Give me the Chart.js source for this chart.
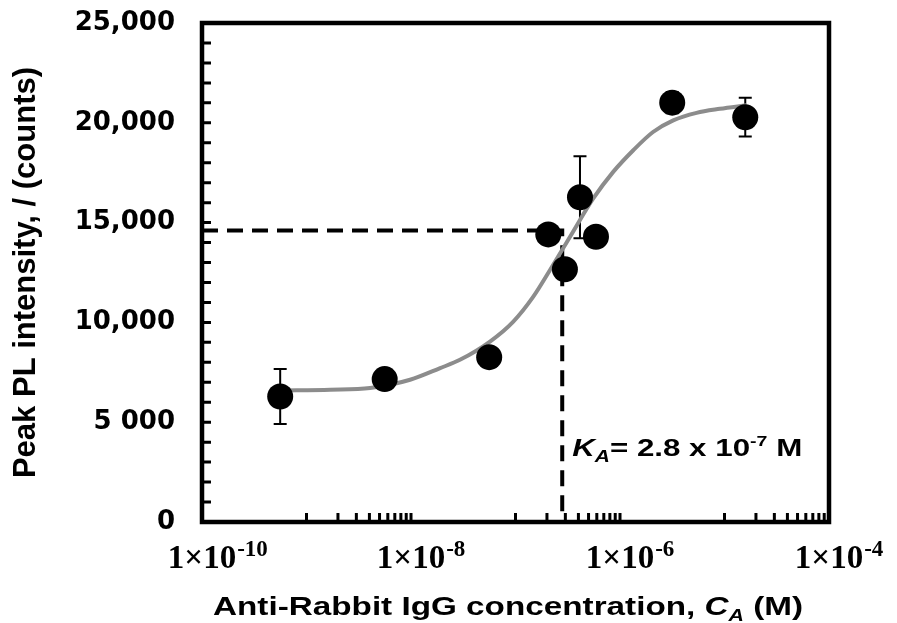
<!DOCTYPE html>
<html>
<head>
<meta charset="utf-8">
<script src="https://cdn.jsdelivr.net/npm/chart.js@4.4.1/dist/chart.umd.min.js"></script>
<style>
  html, body { margin: 0; padding: 0; background: #fff; }
  #wrap { width: 897px; height: 623px; }
</style>
</head>
<body>
<div id="wrap"><canvas id="chart" width="897" height="623"></canvas></div>
<script>
// Measured points (concentration in M, peak PL in counts)
const concentrations = [5.6e-10, 5.6e-9, 5.6e-8, 2.06e-7, 2.97e-7, 4.14e-7, 5.89e-7, 3.16e-6, 1.58e-5];
const intensities = [6290, 7160, 8260, 14410, 12660, 16270, 14290, 21010, 20280];
const errors = [1375, 0, 0, 0, 0, 2050, 0, 530, 970];

// Fitted curve
const fitConc = [5.61e-10, 1.69e-9, 4.06e-9, 9.8e-9, 1.9e-8, 2.94e-8, 5.7e-8, 9.53e-8, 1.48e-7, 2.14e-7,
  3.44e-7, 5.55e-7, 8.61e-7, 1.34e-6, 2.07e-6, 3.23e-6, 5.4e-6, 9.02e-6, 1.62e-5];
const fitIntensity = [6590, 6625, 6710, 7125, 7710, 8125, 9040, 10040, 11290, 12625,
  14420, 16210, 17540, 18625, 19540, 20125, 20500, 20700, 20875];

// K_A marker
const kA = 2.8e-7;
const kALevel = 14600;

// Axis labels
const yTickLabels = ["0", "5 000", "10,000", "15,000", "20,000", "25,000"];
const xTickValues = [1e-10, 1e-8, 1e-6, 1e-4];
const xTickExponents = ["-10", "-8", "-6", "-4"];
const xMinorDecades = [1e-9, 1e-7, 1e-5];

const sans = "'Liberation Sans', Arial, sans-serif";
const serif = "'Liberation Serif', 'Times New Roman', serif";

// draw a run of text pieces with different fonts, optionally squeezed/stretched to a width
function drawParts(ctx, parts, x, y, targetWidth) {
  let natural = 0;
  parts.forEach((p) => {
    ctx.font = p.font;
    natural += ctx.measureText(p.text).width;
  });
  const sx = targetWidth ? targetWidth / natural : 1;
  ctx.save();
  ctx.translate(x, y);
  ctx.scale(sx, 1);
  ctx.textAlign = "left";
  ctx.textBaseline = "alphabetic";
  let cx = 0;
  parts.forEach((p) => {
    ctx.font = p.font;
    ctx.fillText(p.text, cx, p.dy || 0);
    cx += ctx.measureText(p.text).width;
  });
  ctx.restore();
}

const decorations = {
  id: "decorations",
  beforeDatasetsDraw(chart) {
    // error bars
    const { ctx } = chart;
    const xs = chart.scales.x;
    const ys = chart.scales.y;
    ctx.save();
    ctx.strokeStyle = "#000";
    ctx.lineWidth = 2;
    concentrations.forEach((c, i) => {
      if (!errors[i]) return;
      const px = xs.getPixelForValue(c);
      const top = ys.getPixelForValue(intensities[i] + errors[i]);
      const bot = ys.getPixelForValue(intensities[i] - errors[i]);
      ctx.beginPath();
      ctx.moveTo(px, top);
      ctx.lineTo(px, bot);
      ctx.moveTo(px - 6.5, top);
      ctx.lineTo(px + 6.5, top);
      ctx.moveTo(px - 6.5, bot);
      ctx.lineTo(px + 6.5, bot);
      ctx.stroke();
    });
    ctx.restore();
  },
  afterDraw(chart) {
    const { ctx, chartArea } = chart;
    const { left, right, top, bottom } = chartArea;
    const xs = chart.scales.x;
    const ys = chart.scales.y;
    ctx.save();
    ctx.fillStyle = "#000";
    ctx.strokeStyle = "#000";

    // inward tick marks
    ctx.lineWidth = 3;
    ctx.beginPath();
    ys.ticks.forEach((t) => {
      const py = ys.getPixelForValue(t.value);
      ctx.moveTo(left, py);
      ctx.lineTo(left + 9, py);
    });
    xMinorDecades.forEach((d) => {
      for (let k = 1; k <= 10; k++) {
        const px = xs.getPixelForValue(d * k);
        ctx.moveTo(px, bottom);
        ctx.lineTo(px, bottom - 9);
      }
    });
    ctx.stroke();

    // plot frame
    ctx.lineWidth = 4.5;
    ctx.strokeRect(left, top, right - left, bottom - top);

    // x tick labels 1x10^n
    xTickValues.forEach((v, i) => {
      const px = xs.getPixelForValue(v);
      ctx.font = "bold 33px " + serif;
      const w = ctx.measureText("1\u00d710").width;
      ctx.textAlign = "left";
      ctx.textBaseline = "alphabetic";
      ctx.fillText("1\u00d710", px - w / 2, bottom + 46);
      ctx.font = "bold 23px " + serif;
      ctx.fillText(xTickExponents[i], px + w / 2 + 1, bottom + 34);
    });

    // x axis title with subscript
    drawParts(ctx, [
      { text: "Anti-Rabbit IgG concentration, ", font: "bold 25px " + sans },
      { text: "C", font: "italic bold 25px " + sans },
      { text: "A", font: "italic bold 16px " + sans, dy: 6 },
      { text: " (M)", font: "bold 25px " + sans },
    ], left + 11, bottom + 93, 590);

    // K_A annotation
    drawParts(ctx, [
      { text: "K", font: "italic bold 24px " + sans },
      { text: "A", font: "italic bold 16px " + sans, dy: 6 },
      { text: "= 2.8 x 10", font: "bold 24px " + sans },
      { text: "-7", font: "bold 15px " + sans, dy: -10 },
      { text: " M", font: "bold 24px " + sans },
    ], xs.getPixelForValue(kA) + 10, ys.getPixelForValue(3300), 230);

    ctx.restore();
  },
};

const ctx = document.getElementById("chart");

new Chart(ctx.getContext("2d"), {
  type: "scatter",
  data: {
    datasets: [
      {
        label: "Measured",
        data: concentrations.map((c, i) => ({ x: c, y: intensities[i] })),
        pointRadius: 13,
        pointHoverRadius: 13,
        backgroundColor: "#000",
        borderWidth: 0,
      },
      {
        type: "line",
        label: "Fit",
        data: fitConc.map((c, i) => ({ x: c, y: fitIntensity[i] })),
        borderColor: "#8c8c8c",
        borderWidth: 4,
        pointRadius: 0,
        cubicInterpolationMode: "monotone",
        fill: false,
      },
      {
        type: "line",
        label: "KA level",
        data: [{ x: xTickValues[0], y: kALevel }, { x: kA, y: kALevel }, { x: kA, y: 0 }],
        borderColor: "#000",
        borderWidth: 4,
        borderDash: [16, 9],
        pointRadius: 0,
        fill: false,
      },
    ],
  },
  options: {
    responsive: false,
    animation: false,
    layout: { padding: { top: 23, right: 68, left: 0, bottom: 0 } },
    plugins: { legend: { display: false }, tooltip: { enabled: false } },
    scales: {
      x: {
        type: "logarithmic",
        min: 1e-10,
        max: 1e-4,
        grid: { display: false },
        border: { display: false },
        ticks: { display: false },
        afterFit(scale) {
          scale.height = 101;
        },
      },
      y: {
        min: 0,
        max: 25000,
        grid: { display: false, drawTicks: false },
        border: { display: false },
        ticks: {
          stepSize: 1000,
          maxTicksLimit: 30,
          autoSkip: false,
          padding: 27,
          color: "#000",
          font: { family: "'DejaVu Sans', sans-serif", size: 26, weight: "bold" },
          callback: (value) => (value % 5000 === 0 ? yTickLabels[value / 5000] : ""),
        },
        title: {
          display: true,
          text: "Peak PL intensity, / (counts)",
          color: "#000",
          font: { family: sans, size: 31, weight: "bold" },
          padding: { top: 8, bottom: 0 },
        },
        afterFit(scale) {
          // the label padding would otherwise push the plot down
          scale.width = 202;
          scale.paddingTop = 0;
          scale.paddingBottom = 0;
        },
      },
    },
  },
  plugins: [decorations],
});
</script>
</body>
</html>
